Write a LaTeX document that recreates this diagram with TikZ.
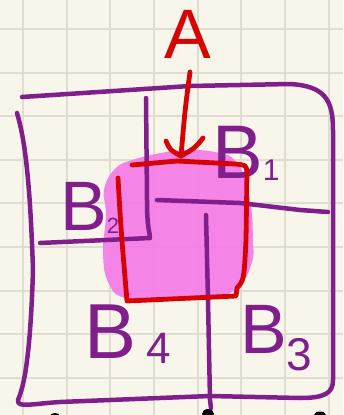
\documentclass[tikz,border=0pt]{standalone}
\usepackage{fontspec}
\setmainfont{Liberation Sans}
\definecolor{bgc}{HTML}{F8F6EA}
\definecolor{gridc}{HTML}{DFDDCF}
\definecolor{purp}{HTML}{801E8C}
\definecolor{redc}{HTML}{D60000}
\definecolor{pinkc}{HTML}{F47CE6}
\begin{document}
\begin{tikzpicture}[x=1pt,y=-1pt,
  pu/.style={draw=purp,line width=4.5pt,line cap=round,line join=round},
  rd/.style={draw=redc,line width=4.8pt,line cap=round,line join=round},
  gl/.style={draw=gridc,line width=2pt},
  lab/.style={text=purp,inner sep=0pt,anchor=base west}]
\fill[bgc] (0,0) rectangle (343,415);
\useasboundingbox (0,0) rectangle (343,415);
% grid
\foreach \i in {0,...,7} {\draw[gl] (23+43.65*\i,0) -- (23+43.65*\i,415);}
\foreach \j in {0,...,8} {\draw[gl] (0,29+43.6*\j) -- (343,29+43.6*\j);}
% pink blob
\fill[pinkc,opacity=0.92] plot[smooth cycle,tension=0.7] coordinates {(132,160) (175,151) (215,152) (238,164) (250,200) (253,240) (252,262) (240,285) (215,298) (170,300) (125,298) (108,282) (103,252) (106,215) (104,190) (114,170)};
% outer frame
\draw[pu] (22,97) -- (190,86) -- (290,84) .. controls (325,86) and (333,100) .. (333,130) -- (333,380) .. controls (333,393) and (325,398) .. (300,398) -- (210,396) -- (60,402) .. controls (30,404) and (17,408) .. (18,400) .. controls (22,390) and (30,370) .. (33,270) .. controls (30,180) and (25,140) .. (17,113);
% inner lines
\draw[pu] (146,98) -- (147,200) .. controls (147,230) and (150,232) .. (150,238) -- (40,243);
\draw[pu] (157,200) -- (240,203) -- (300,210) -- (328,212);
\draw[pu] (206,215) -- (208,300) -- (210,400) -- (211,408);
% labels
\node[lab] (b1) at (212,178) {\fontsize{76}{76}\selectfont B\raisebox{-2pt}{\fontsize{30}{30}\selectfont 1}};
\node[lab] (b2) at (60,230) {\fontsize{70}{70}\selectfont B\raisebox{-3pt}{\fontsize{22}{22}\selectfont 2}};
\node[lab] (b4) at (84,358) {\fontsize{78}{78}\selectfont B\hspace{10pt}\raisebox{-5pt}{\fontsize{44}{44}\selectfont 4}};
\node[lab] (b3) at (240,353) {\fontsize{70}{70}\selectfont B\raisebox{-17pt}{\fontsize{46}{46}\selectfont 3}};
% red rectangle
\draw[rd] (118,178) .. controls (121,230) .. (127,301) -- (236,296) -- (237,288) .. controls (244,280) .. (246,240) -- (247,172) .. controls (246,165) .. (235,164) -- (177,161) -- (132,165);
% arrow and A
\node[text=redc,inner sep=0pt,anchor=base] (a) at (188,58) {\fontsize{70}{70}\selectfont A};
\coordinate (tip) at (181,156);
\draw[rd] (190,72) .. controls (185,110) .. (tip);
\draw[rd] (166,141) .. controls (170,150) .. (tip);
\draw[rd] (203,138) .. controls (195,148) .. (tip);
% black marks at bottom
\fill[black] (55,416) ellipse (5 and 3);
\fill[black] (208,414) ellipse (6 and 5);
\fill[black] (320,415) ellipse (6 and 3.5);
\end{tikzpicture}
\end{document}
